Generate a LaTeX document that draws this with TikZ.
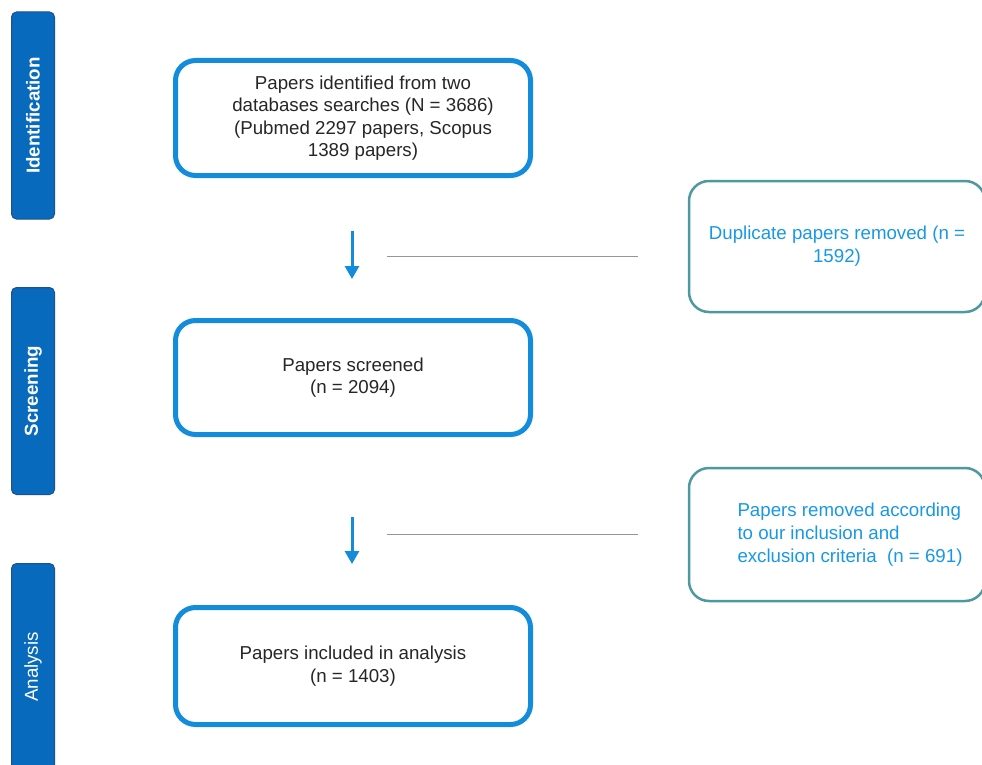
\documentclass[tikz,border=0pt]{standalone}
\usepackage{fontspec}
\setmainfont{Liberation Sans}
\usetikzlibrary{arrows.meta}
\definecolor{stageblue}{RGB}{8,106,188}
\definecolor{stageedge}{RGB}{30,82,140}
\definecolor{boxblue}{RGB}{20,140,220}
\definecolor{sideteal}{RGB}{78,152,160}
\definecolor{sidetext}{RGB}{24,152,228}
\definecolor{rulegrey}{RGB}{150,150,150}

\begin{document}
\begin{tikzpicture}[x=1pt,y=-1pt,
  stage/.style={rotate=90,fill=stageblue,draw=stageedge,line width=1pt,rounded corners=5pt,
    minimum width=207pt,minimum height=43pt,text=white,font=\fontsize{18.7}{22}\selectfont},
  mainbox/.style={draw=boxblue,line width=5pt,rounded corners=20pt,minimum width=355pt,
    align=center,text=black!85,font=\fontsize{18.7}{22.5}\selectfont},
  sidebox/.style={draw=sideteal,line width=2.5pt,rounded corners=20pt,minimum width=296pt,
    text=sidetext,font=\fontsize{18.7}{23}\selectfont},
  flow/.style={draw=boxblue,line width=3pt,-{Triangle[width=14pt,length=13pt]}},
  rule/.style={draw=rulegrey,line width=1pt}]
\useasboundingbox (0,0) rectangle (982,765);
\node[stage] (ident) at (33,115.5) {\bfseries Identification};
\node[stage] (screen) at (33,391) {\bfseries Screening};
\node[stage] (anal) at (33,667) {Analysis};
\node[mainbox,minimum height=115pt] (found) at (353,118) {\hspace*{20pt}Papers identified from two\\\hspace*{20pt}databases searches (N = 3686)\\\hspace*{20pt}(Pubmed 2297 papers, Scopus\\\hspace*{20pt}1389 papers)};
\node[mainbox,minimum height=114pt] (screened) at (353,377.5) {Papers screened\\(n = 2094)};
\node[mainbox,minimum height=117pt] (included) at (353,666) {Papers included in analysis\\(n = 1403)};
\node[sidebox,minimum height=131pt,align=center] (dupl) at (837,246.5) {Duplicate papers removed (n =\\1592)};
\node[sidebox,minimum height=133pt,align=left] (excl) at (837,534.5) {\hspace*{26pt}Papers removed according\\\hspace*{26pt}to our inclusion and\\\hspace*{26pt}exclusion criteria \ (n = 691)};
\coordinate (f1a) at (352,231);
\coordinate (f1b) at (352,279);
\coordinate (f2a) at (352,517);
\coordinate (f2b) at (352,564);
\coordinate (r1a) at (387,256);
\coordinate (r1b) at (638,256);
\coordinate (r2a) at (387,534);
\coordinate (r2b) at (638,534);
\draw[flow] (f1a) -- (f1b);
\draw[flow] (f2a) -- (f2b);
\draw[rule] (r1a) -- (r1b);
\draw[rule] (r2a) -- (r2b);
\end{tikzpicture}
\end{document}
